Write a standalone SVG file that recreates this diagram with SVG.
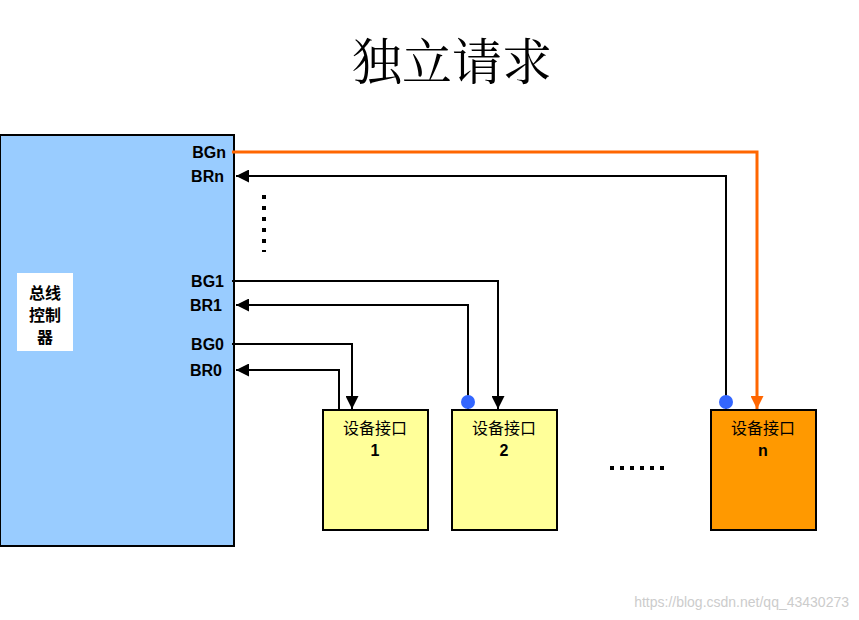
<svg xmlns="http://www.w3.org/2000/svg" width="859" height="620" viewBox="0 0 859 620">
<style>
.lbl{font-family:"Liberation Sans",Arial,sans-serif;font-weight:bold;font-size:16px;fill:#000}
.cn{font-family:"Noto Sans CJK SC",sans-serif;font-size:16px;fill:#000}
.w{fill:none;stroke:#000;stroke-width:2}
.dev{fill:#ffff99;stroke:#000;stroke-width:2}
</style>
<defs>
<marker id="a" viewBox="0 0 10 10" refX="10" refY="5" markerWidth="6" markerHeight="6" orient="auto" markerUnits="userSpaceOnUse"><path d="M0,0L10,5L0,10z" fill="#000"/></marker>
<marker id="ab" viewBox="0 0 10 10" refX="10" refY="5" markerWidth="13" markerHeight="13" orient="auto" markerUnits="userSpaceOnUse"><path d="M0,0L10,5L0,10z" fill="#000"/></marker>
<marker id="ao" viewBox="0 0 10 10" refX="10" refY="5" markerWidth="13" markerHeight="13" orient="auto" markerUnits="userSpaceOnUse"><path d="M0,0L10,5L0,10z" fill="#ff6600"/></marker>
</defs>
<rect width="859" height="620" fill="#fff"/>
<text x="452" y="80" text-anchor="middle" font-family="Noto Serif CJK SC,Noto Sans CJK SC,serif" font-size="50" fill="#000">独立请求</text>
<g id="controller">
<rect x="0" y="135" width="234" height="411" fill="#99ccff" stroke="#000" stroke-width="2"/>
<rect x="17" y="273" width="56" height="78" fill="#fff"/>
<text class="cn" font-weight="bold" x="45" y="299" text-anchor="middle">总线</text>
<text class="cn" font-weight="bold" x="45" y="321" text-anchor="middle">控制</text>
<text class="cn" font-weight="bold" x="45" y="343" text-anchor="middle">器</text>
<text class="lbl" x="226" y="158" text-anchor="end">BGn</text>
<text class="lbl" x="224" y="182" text-anchor="end">BRn</text>
<text class="lbl" x="224" y="287" text-anchor="end">BG1</text>
<text class="lbl" x="222" y="311" text-anchor="end">BR1</text>
<text class="lbl" x="224" y="350" text-anchor="end">BG0</text>
<text class="lbl" x="222" y="376" text-anchor="end">BR0</text>
</g>
<g id="dev1">
<rect class="dev" x="323" y="410" width="105" height="120"/>
<text class="cn" x="375" y="434" text-anchor="middle">设备接口</text>
<text class="lbl" x="375" y="456" text-anchor="middle">1</text>
</g>
<g id="dev2">
<rect class="dev" x="452" y="410" width="105" height="120"/>
<text class="cn" x="504" y="434" text-anchor="middle">设备接口</text>
<text class="lbl" x="504" y="456" text-anchor="middle">2</text>
</g>
<g id="devn">
<rect x="711" y="410" width="105" height="120" fill="#ff9900" stroke="#000" stroke-width="2"/>
<text class="cn" x="763" y="434" text-anchor="middle">设备接口</text>
<text class="lbl" x="763" y="456" text-anchor="middle">n</text>
</g>
<g id="connectors">
<path d="M232,152H757V409" fill="none" stroke="#ff6600" stroke-width="3" marker-end="url(#ao)"/>
<path class="w" d="M726,409V176H236" marker-end="url(#ab)"/>
<path class="w" d="M232,281H498V409" marker-end="url(#ab)"/>
<path class="w" d="M468,409V305H236" marker-end="url(#ab)"/>
<path class="w" d="M232,344H352V409" marker-end="url(#ab)"/>
<path class="w" d="M339,409V370H236" marker-end="url(#ab)"/>
<circle cx="468" cy="402" r="7" fill="#3366ff"/>
<circle cx="726" cy="402" r="7" fill="#3366ff"/>
</g>
<path d="M264,195V252" stroke="#000" stroke-width="4" stroke-dasharray="4,7"/>
<path d="M610,468H668" stroke="#000" stroke-width="4" stroke-dasharray="4,6"/>
<text x="849" y="607" text-anchor="end" font-family="Liberation Sans,sans-serif" font-size="14" fill="#cccccc">https://blog.csdn.net/qq_43430273</text>
</svg>
